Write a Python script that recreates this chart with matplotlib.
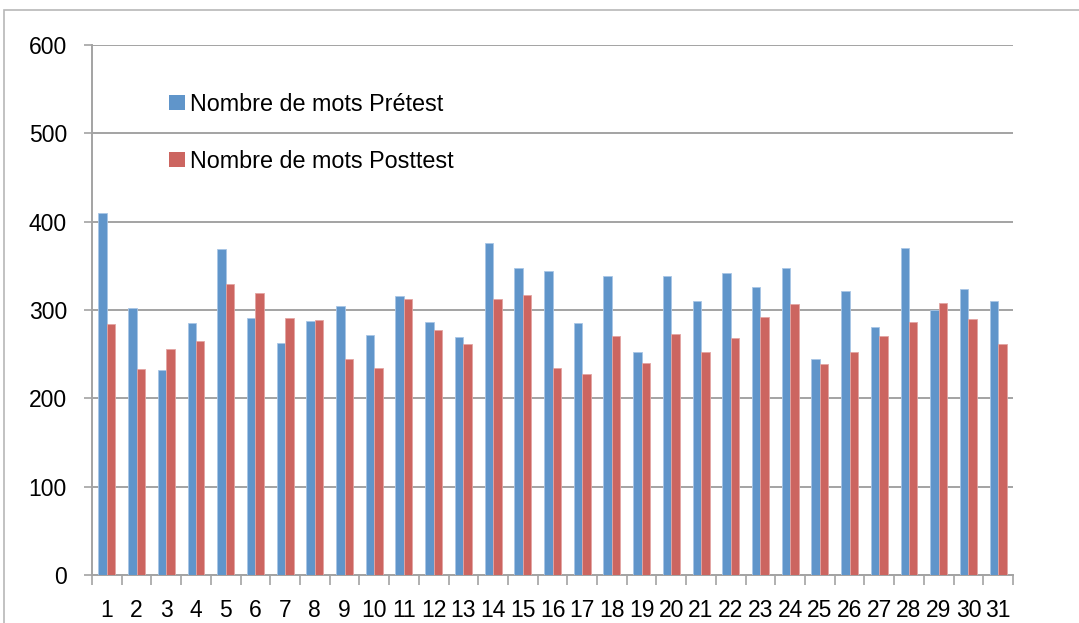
import numpy as np
import matplotlib
matplotlib.use('Agg')
import matplotlib.pyplot as plt
from matplotlib.patches import Rectangle, Patch
from matplotlib.ticker import FixedLocator

plt.rcParams['font.family'] = ['Liberation Sans', 'DejaVu Sans']

# 数据
eleves = [str(i) for i in range(1, 32)]
pretest = [410, 302, 232, 285, 369, 291, 263, 287, 305, 272,
           316, 286, 269, 376, 347, 344, 285, 339, 252, 339,
           310, 342, 326, 347, 245, 321, 281, 370, 300, 324, 310]
posttest = [284, 233, 256, 265, 329, 319, 291, 289, 245, 234,
            313, 277, 262, 313, 317, 234, 227, 271, 240, 273,
            252, 268, 292, 307, 239, 252, 271, 286, 308, 290, 262]
labels = ['Nombre de mots Prétest', 'Nombre de mots Posttest']

blue = '#6095ca'
red = '#cc6560'
grid_col = '#a3a3a3'

fig = plt.figure(figsize=(10.79, 6.23), dpi=100)
ax = fig.add_axes([92 / 1079, 1 - 575 / 623, 921 / 1079, 530 / 623])

x = np.arange(len(eleves))
w = 0.285
ax.bar(x - w / 2, pretest, w, color=blue, edgecolor='#a9c6e6', linewidth=0.6, zorder=3)
ax.bar(x + w / 2, posttest, w, color=red, edgecolor='#e3a5a2', linewidth=0.6, zorder=3)

ax.set_xlim(-0.5, len(eleves) - 0.5)
ax.set_ylim(0, 600)
ax.set_yticks(range(0, 601, 100))
ax.yaxis.grid(True, color=grid_col, linewidth=1.4, zorder=0)
ax.set_axisbelow(True)

ax.set_xticks(x)
ax.set_xticklabels(eleves)
ax.xaxis.set_minor_locator(FixedLocator(np.arange(-0.5, len(eleves), 1.0)))
ax.tick_params(axis='x', which='major', length=0, pad=17, labelsize=16.5)
ax.tick_params(axis='x', which='minor', length=7, color=grid_col, width=1.2)
ax.tick_params(axis='y', length=6, color=grid_col, width=1.2, pad=12, labelsize=16.5)

for s in ['top', 'right']:
    ax.spines[s].set_visible(False)
for s in ['left', 'bottom']:
    ax.spines[s].set_color(grid_col)
    ax.spines[s].set_linewidth(1.4)

handles = [Patch(facecolor=blue), Patch(facecolor=red)]
ax.legend(handles, labels, loc='upper left', bbox_to_anchor=(0.084, 0.91),
          frameon=False, fontsize=16.8, handlelength=0.65, handleheight=0.65,
          handletextpad=0.25, labelspacing=1.45, borderpad=0, borderaxespad=0)

# cadre du graphique
fig.patches.append(Rectangle((4 / 1079, -0.1), 1.2, 1 - 10 / 623 + 0.1,
                             transform=fig.transFigure, fill=False,
                             edgecolor='#b8b8b8', linewidth=1.2))

fig.savefig('out.png', dpi=100)
